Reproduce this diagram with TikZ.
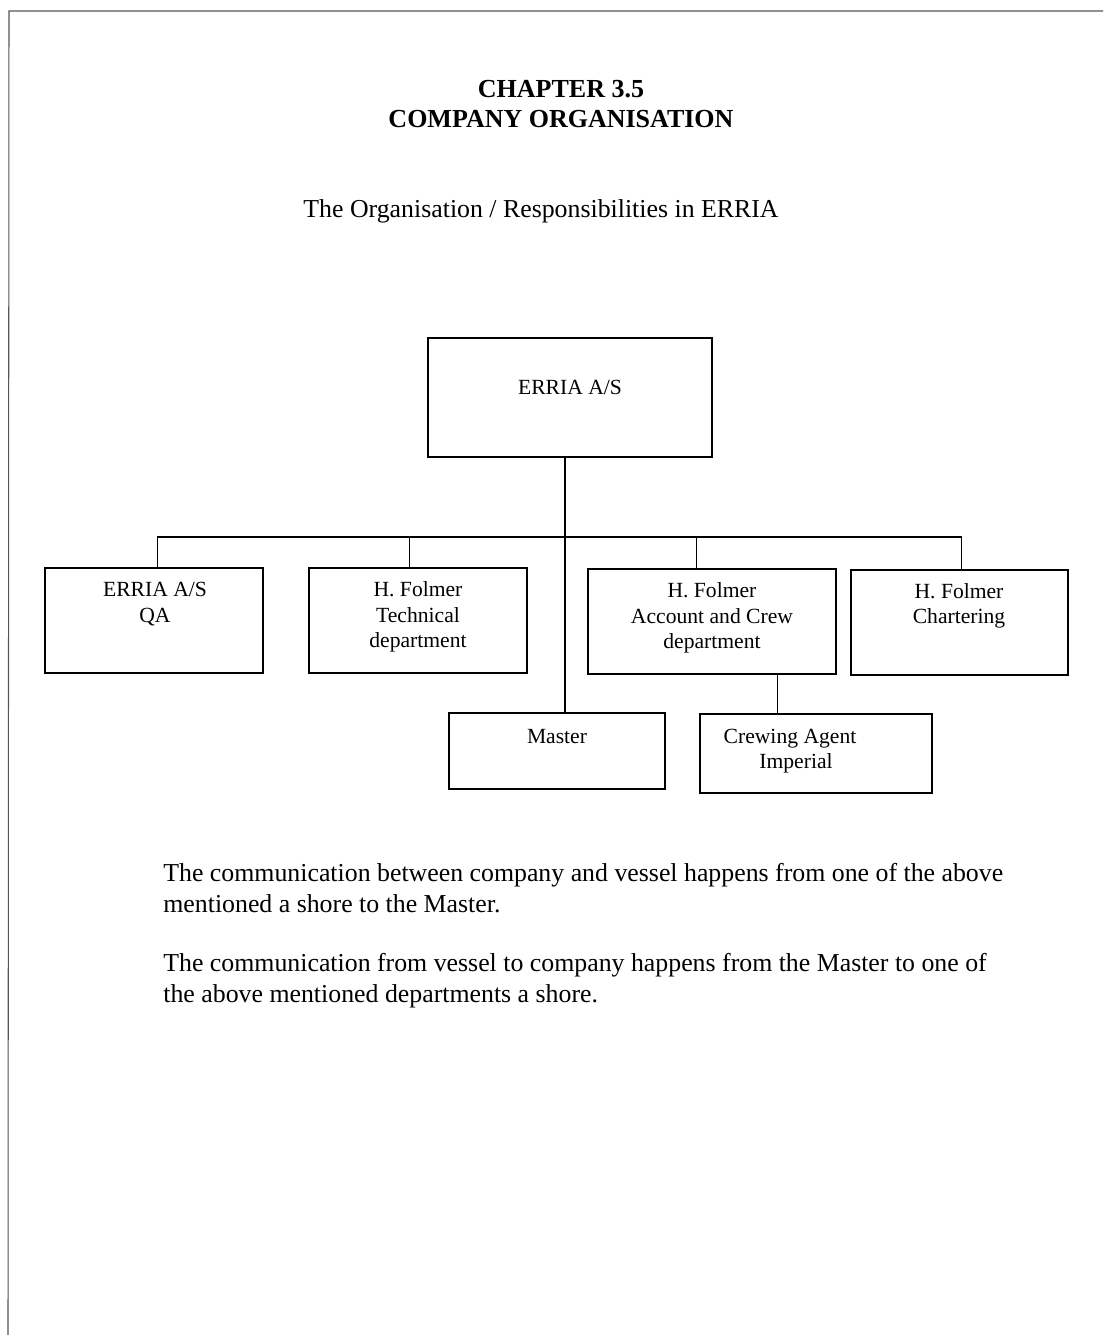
\documentclass[tikz,border=0pt]{standalone}
\usepackage{fontspec}
\setmainfont{Liberation Serif}
\usepackage{tikz}
\usetikzlibrary{positioning,calc}
\definecolor{PageGrey}{HTML}{555555}

\begin{document}
\begin{tikzpicture}[x=0.02cm,y=-0.02cm,
    unit/.style={draw,line width=0.7pt,minimum width=#1,minimum height=2.1cm,inner sep=0pt},
    unitlabel/.style={align=center,inner sep=0pt,font=\fontsize{12.3}{14.4}\selectfont},
    bodytext/.style={align=left,anchor=north west,inner sep=0pt,font=\fontsize{14.7}{17.6}\selectfont},
    link/.style={line width=0.7pt}]
    \useasboundingbox (0,0) rectangle (1103,1335);
    \draw[PageGrey,line width=0.6pt] (1103,11) -- (9,11) -- (8,1335);
    \node[anchor=base,font=\fontsize{14.8}{17.6}\selectfont\bfseries] (chapter) at (561,98) {CHAPTER 3.5};
    \node[anchor=base,font=\fontsize{14.8}{17.6}\selectfont\bfseries] (title) at (561,128) {COMPANY ORGANISATION};
    \node[anchor=base,font=\fontsize{14.7}{17.6}\selectfont] (subtitle) at (541,217) {The Organisation / Responsibilities in ERRIA};
    \node[unit=5.68cm,minimum height=2.38cm] (boss) at (570,397.5) {};
    \node[unitlabel] (bosslabel) at (570,387) {ERRIA A/S};
    \node[unit=4.36cm] (qa) at (154,620.5) {};
    \node[unitlabel] (qalabel) at (155,604) {ERRIA A/S\\QA};
    \node[unit=4.36cm] (tech) at (418,620.5) {};
    \node[unitlabel] (techlabel) at (418,617) {H. Folmer\\Technical\\department};
    \node[unit=4.96cm] (acct) at (712,621.5) {};
    \node[unitlabel] (acctlabel) at (712,618) {H. Folmer\\Account and Crew\\department};
    \node[unit=4.34cm] (chart) at (959.5,622.5) {};
    \node[unitlabel] (chartlabel) at (959,606) {H. Folmer\\Chartering};
    \node[unit=4.32cm,minimum height=1.52cm] (master) at (557,751) {};
    \node[unitlabel] (masterlabel) at (557,737) {Master};
    \node[unit=4.64cm,minimum height=1.58cm] (crew) at (816,753.5) {};
    \node[unitlabel] (crewlabel) at (790,751) {Crewing Agent\\\hspace*{0.24cm}Imperial};
    \coordinate (bus) at (565,537);
    \draw[link] (boss.south -| bus) -- (master.north -| bus);
    \foreach \n/\d in {qa/113,tech/101,acct/109,chart/111} {
     \draw[link] (\n.north west) ++(\d,0) |- (bus);
    }
    \draw[link] (acct.south west) ++(190,0) coordinate (crewdrop) -- (crewdrop |- crew.north);
    \node[bodytext] (par1) at (163,863) {The communication between company and vessel happens from one of the above\\mentioned a shore to the Master.};
    \node[bodytext] (par2) at (163,953) {The communication from vessel to company happens from the Master to one of\\the above mentioned departments a shore.};
\end{tikzpicture}
\end{document}
